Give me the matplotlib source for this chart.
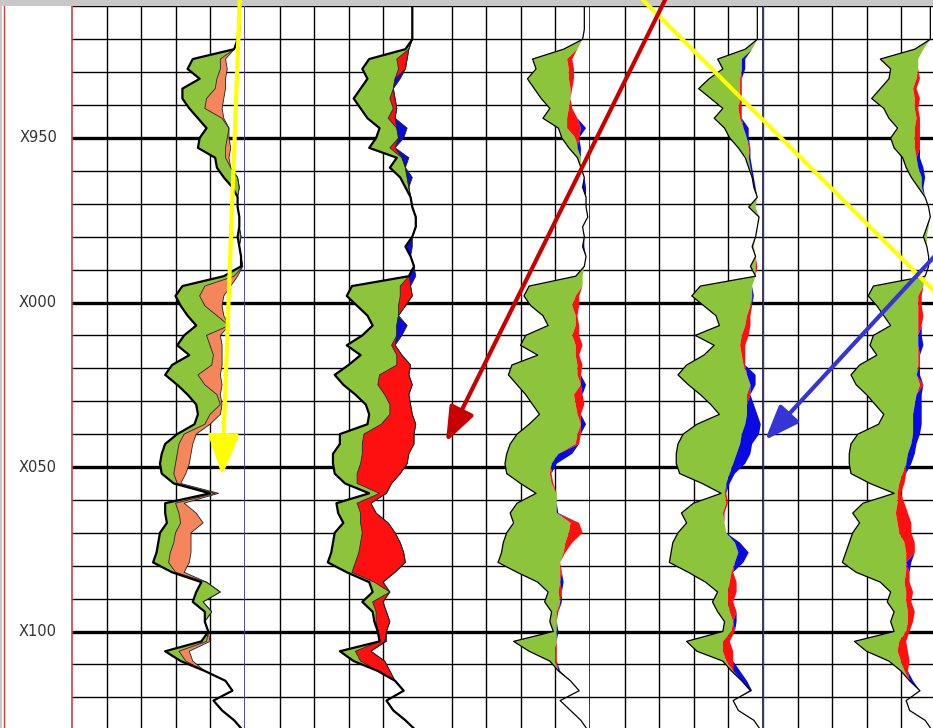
import numpy as np
import matplotlib
matplotlib.use("Agg")
import matplotlib.pyplot as plt
from matplotlib.patches import Rectangle, ConnectionPatch

# depth index of the log samples (every 3 ft)
depth = np.arange(908, 1131, 3)

label_depths = [950, 1000, 1050, 1100]
depth_labels = ["X950", "X000", "X050", "X100"]

# track 1: left curve, green and orange thickness (track units 0-100)
t1_left = [97, 97,
           97, 97, 96, 94, 70, 67, 74, 64, 64, 68,
           73, 78, 74, 73, 83, 84, 88, 93, 96, 96,
           97, 97, 96, 97, 98, 98, 88, 64, 60, 63,
           67, 72, 65, 61, 68, 58, 54, 61, 67, 72,
           73, 71, 61, 54, 52, 51, 52, 59, 80, 54,
           54, 55, 51, 50, 49, 47, 58, 75, 72, 70,
           77, 77, 79, 75, 54, 63, 77, 89, 93, 82,
           87, 94, 99]
t1_green = [0, 0,
            0, 0, 0, 0, 16, 19, 10, 19, 14, 9,
            14, 13, 16, 16, 6, 8, 8, 4, 0, 0,
            0, 0, 2, 0, 0, 1, 6, 13, 14, 14,
            17, 19, 13, 19, 14, 23, 19, 16, 17, 14,
            7, 6, 4, 8, 9, 9, 7, 2, 3, 6,
            8, 8, 9, 9, 8, 9, 2, 3, 14, 6,
            4, 0, 0, 3, 8, 3, 0, 0, 0, 0,
            0, 0, 0]
t1_orange = [0, 0,
             0, 0, 0, 0, 3, 4, 5, 6, 10, 10,
             1, 0, 1, 3, 2, 0, 0, 0, 0, 0,
             0, 0, 0, 0, 0, 0, 2, 15, 14, 10,
             4, 0, 8, 7, 5, 6, 13, 10, 2, 1,
             6, 3, 7, 8, 8, 8, 7, 2, 2, 5,
             10, 13, 9, 10, 12, 12, 5, 0, 0, 0,
             0, 0, 0, 2, 6, 4, 0, 0, 0, 0,
             0, 0, 0]

# track 2
t2_left = [97, 97,
           97, 97, 97, 93, 72, 68, 71, 67, 63, 67,
           71, 78, 76, 72, 88, 84, 90, 93, 96, 97,
           99, 99, 97, 93, 96, 98, 95, 62, 59, 65,
           71, 74, 68, 59, 67, 60, 52, 57, 64, 70,
           72, 71, 55, 55, 51, 51, 52, 58, 72, 53,
           54, 57, 52, 51, 50, 48, 59, 72, 74, 68,
           74, 75, 77, 78, 55, 63, 77, 87, 92, 82,
           86, 93, 99]
t2_green = [0, 0,
            0, 0, 0, 2, 16, 21, 16, 19, 21, 19,
            12, 10, 13, 12, 3, 9, 4, 2, 0, 0,
            0, 0, 0, 0, 0, 0, 0, 28, 31, 24,
            18, 14, 20, 26, 21, 28, 26, 20, 17, 14,
            12, 8, 14, 13, 17, 16, 13, 7, 6, 12,
            13, 10, 16, 16, 16, 16, 3, 3, 10, 6,
            2, 1, 0, 0, 9, 4, 0, 0, 0, 0,
            0, 0, 0]
t2_red = [0, 0,
          0, 0, 0, 0, 6, 4, 0, 0, 3, 2,
          4, 0, 0, 3, 0, 0, 0, 0, 0, 0,
          0, 0, 0, 0, 0, 0, 0, 6, 7, 4,
          0, 0, 0, 2, 3, 8, 17, 20, 14, 12,
          13, 20, 29, 30, 27, 27, 25, 20, 4, 8,
          9, 16, 19, 23, 26, 29, 25, 5, 0, 6,
          6, 8, 5, 3, 9, 14, 7, 0, 0, 0,
          0, 0, 0]
t2_blue = [0, 0,
           0, 0, 0, 0, 0, 0, 3, 0, 0, 0,
           0, 6, 3, 0, 4, 0, 3, 0, 0, 0,
           0, 0, 0, 4, 0, 0, 4, 0, 0, 0,
           0, 6, 3, 0, 0, 0, 0, 0, 0, 0,
           0, 0, 0, 0, 0, 0, 0, 0, 0, 0,
           0, 0, 0, 0, 0, 0, 0, 0, 0, 0,
           0, 0, 0, 1, 0, 0, 0, 0, 0, 0,
           0, 0, 0]

# track 3
t3_left = [97, 97,
           97, 97, 96, 85, 67, 69, 64, 68, 72, 77,
           73, 82, 84, 88, 93, 95, 97, 96, 98, 98,
           99, 96, 97, 96, 98, 97, 92, 65, 62, 66,
           73, 76, 63, 60, 70, 55, 53, 58, 63, 67,
           71, 65, 58, 54, 52, 51, 52, 60, 69, 58,
           54, 56, 52, 50, 49, 47, 58, 70, 76, 74,
           78, 77, 79, 56, 65, 77, 82, 89, 94, 83,
           89, 95, 99]
t3_green = [0, 0,
            0, 0, 0, 8, 20, 19, 24, 21, 17, 11,
            14, 5, 8, 5, 2, 0, 0, 0, 0, 0,
            0, 0, 0, 0, 0, 0, 4, 31, 30, 24,
            19, 16, 27, 32, 22, 38, 40, 37, 28, 25,
            22, 30, 35, 38, 30, 27, 25, 18, 12, 23,
            27, 33, 36, 36, 36, 36, 25, 13, 6, 9,
            3, 4, 2, 25, 15, 3, 0, 0, 0, 0,
            0, 0, 0]
t3_red = [0, 0,
          0, 0, 0, 0, 3, 3, 3, 1, 0, 2,
          6, 8, 2, 0, 0, 0, 0, 0, 0, 0,
          0, 0, 0, 0, 0, 0, 0, 0, 2, 4,
          1, 2, 4, 4, 2, 3, 2, 0, 5, 5,
          2, 0, 2, 2, 0, 0, 1, 1, 0, 0,
          0, 5, 8, 4, 1, 0, 1, 0, 2, 0,
          1, 0, 0, 0, 1, 1, 0, 0, 0, 0,
          0, 0, 0]
t3_blue = [0, 0,
           0, 0, 0, 0, 0, 0, 0, 0, 0, 0,
           0, 3, 0, 2, 0, 0, 0, 2, 0, 0,
           0, 0, 0, 1, 0, 0, 0, 0, 0, 0,
           0, 0, 0, 0, 0, 0, 0, 3, 0, 0,
           0, 3, 0, 0, 8, 3, 0, 0, 0, 0,
           1, 0, 0, 0, 0, 0, 0, 2, 0, 1,
           0, 0, 1, 0, 0, 0, 1, 0, 0, 0,
           0, 0, 0]

# track 4
t4_left = [97, 97,
           97, 97, 97, 90, 74, 77, 69, 63, 70, 77,
           72, 78, 81, 86, 90, 92, 94, 95, 97, 92,
           98, 97, 96, 94, 96, 93, 96, 64, 59, 66,
           73, 75, 61, 72, 66, 56, 51, 57, 64, 70,
           75, 62, 54, 51, 50, 50, 52, 65, 76, 60,
           53, 56, 51, 48, 47, 46, 57, 67, 74, 71,
           74, 78, 77, 56, 62, 77, 82, 88, 93, 83,
           86, 95, 99]
t4_green = [0, 0,
            0, 0, 0, 4, 14, 11, 18, 24, 17, 9,
            15, 11, 10, 6, 2, 1, 0, 0, 0, 4,
            0, 0, 0, 1, 0, 3, 0, 30, 35, 27,
            18, 15, 27, 15, 22, 33, 40, 36, 27, 21,
            16, 28, 34, 36, 35, 33, 29, 14, 2, 19,
            24, 22, 28, 36, 39, 38, 25, 14, 6, 9,
            7, 5, 5, 21, 15, 2, 1, 0, 0, 0,
            0, 0, 0]
t4_red = [0, 0,
          0, 0, 0, 0, 0, 0, 1, 1, 1, 2,
          1, 0, 0, 1, 0, 0, 0, 0, 0, 0,
          0, 0, 0, 0, 0, 1, 0, 0, 0, 1,
          2, 3, 4, 3, 2, 1, 0, 0, 2, 0,
          0, 0, 0, 0, 0, 0, 0, 0, 1, 1,
          1, 0, 0, 0, 0, 0, 1, 4, 5, 3,
          4, 0, 2, 4, 6, 4, 0, 0, 0, 0,
          0, 0, 0]
t4_blue = [0, 0,
           0, 0, 0, 0, 2, 2, 0, 0, 0, 0,
           0, 3, 1, 0, 1, 1, 1, 1, 0, 0,
           0, 0, 0, 0, 0, 0, 0, 0, 1, 0,
           0, 0, 0, 0, 0, 0, 5, 3, 0, 4,
           6, 9, 10, 7, 8, 7, 3, 2, 0, 0,
           0, 0, 0, 3, 6, 5, 0, 0, 0, 0,
           0, 2, 0, 0, 0, 0, 4, 3, 1, 0,
           0, 0, 0]

# track 5
t5_left = [97, 97,
           97, 97, 97, 88, 68, 74, 73, 68, 63, 70,
           73, 78, 74, 76, 81, 83, 86, 90, 94, 96,
           97, 95, 93, 95, 96, 96, 94, 64, 61, 66,
           70, 74, 64, 62, 66, 56, 51, 54, 60, 65,
           70, 67, 55, 51, 50, 50, 51, 62, 76, 58,
           52, 56, 52, 50, 48, 46, 54, 68, 74, 72,
           76, 74, 76, 53, 60, 73, 80, 85, 91, 83,
           85, 94, 98]
t5_green = [0, 0,
            0, 0, 0, 5, 22, 16, 16, 19, 25, 18,
            16, 10, 14, 12, 8, 7, 6, 2, 0, 0,
            0, 1, 2, 0, 0, 0, 0, 29, 29, 24,
            20, 16, 26, 28, 24, 34, 38, 37, 29, 23,
            17, 20, 32, 35, 34, 33, 30, 17, 2, 20,
            25, 22, 27, 32, 35, 37, 29, 14, 9, 11,
            8, 10, 7, 26, 18, 7, 2, 0, 0, 0,
            0, 0, 0]
t5_red = [0, 0,
          0, 0, 0, 0, 0, 0, 2, 2, 3, 2,
          2, 3, 3, 3, 0, 0, 0, 0, 0, 0,
          0, 0, 0, 0, 0, 0, 0, 0, 2, 2,
          3, 2, 0, 0, 1, 1, 0, 2, 0, 0,
          0, 0, 0, 0, 0, 0, 2, 3, 2, 4,
          7, 8, 7, 6, 5, 0, 2, 3, 4, 3,
          4, 3, 2, 4, 6, 5, 2, 0, 0, 0,
          0, 0, 0]
t5_blue = [0, 0,
           0, 0, 0, 0, 0, 0, 0, 0, 0, 0,
           0, 0, 0, 0, 2, 3, 2, 1, 0, 0,
           0, 0, 0, 0, 0, 0, 0, 0, 0, 0,
           0, 0, 2, 3, 0, 0, 2, 0, 3, 4,
           5, 5, 4, 3, 4, 3, 0, 0, 0, 0,
           0, 0, 0, 0, 0, 3, 0, 0, 0, 0,
           0, 0, 0, 0, 0, 0, 0, 2, 0, 0,
           0, 0, 0]

GREEN = "#8cc43c"
ORANGE = "#f5865c"
RED = "#ff1010"
BLUE = "#0a0ae0"

W, H = 933, 728
fig = plt.figure(figsize=(W / 100, H / 100), dpi=100)
fig.patch.set_facecolor("white")

top_px = 6
px_per_ft = 3.29
d_top = 950 + (top_px - 138) / px_per_ft
d_bot = 950 + (H - 138) / px_per_ft


def px_axes(x0, w):
    ax = fig.add_axes([x0 / W, 0, w / W, (H - top_px) / H])
    ax.set_ylim(d_bot, d_top)
    ax.set_xticks([])
    ax.set_yticks([])
    for s in ax.spines.values():
        s.set_visible(False)
    return ax


# depth column
axd = px_axes(4, 68)
axd.set_xlim(0, 1)
axd.spines["left"].set_visible(True)
axd.spines["left"].set_color("#d04040")
axd.spines["left"].set_linewidth(1.0)
for d, lab in zip(label_depths, depth_labels):
    axd.text(0.5, d, lab, ha="center", va="center", fontsize=10.5, color="#333333")


def draw_track(ax, left, layers, lw, edges):
    ax.set_xlim(0, 100)
    for x in (20, 40, 60, 80):
        ax.axvline(x, color="black", lw=1.0, zorder=0)
    for d in range(910, 1130, 10):
        ax.axhline(d, color="black", lw=2.4 if d % 50 == 0 else 1.0, zorder=0)
    x0 = np.array(left, float)
    for width, color in layers:
        x1 = x0 + np.array(width, float)
        ax.fill_betweenx(depth, x0, x1, color=color, lw=0, zorder=2)
        if edges:
            ax.plot(x1, depth, color="#222222", lw=0.6, zorder=3)
        x0 = x1
    ax.plot(left, depth, color="black", lw=lw, zorder=4)


lefts = [72, 245, 417, 590, 763]
axes = [px_axes(x, 172.5) for x in lefts]

draw_track(axes[0], t1_left, [(t1_green, GREEN), (t1_orange, ORANGE)], 1.6, True)
draw_track(axes[1], t2_left, [(t2_green, GREEN), (t2_red, RED), (t2_blue, BLUE)], 1.6, True)
draw_track(axes[2], t3_left, [(t3_green, GREEN), (t3_red, RED), (t3_blue, BLUE)], 0.9, False)
draw_track(axes[3], t4_left, [(t4_green, GREEN), (t4_red, RED), (t4_blue, BLUE)], 0.9, False)
draw_track(axes[4], t5_left, [(t5_green, GREEN), (t5_red, RED), (t5_blue, BLUE)], 0.9, False)

# track borders
axes[0].spines["left"].set_visible(True)
axes[0].spines["left"].set_color("#d04040")
axes[0].spines["left"].set_linewidth(1.2)
axes[0].spines["right"].set_visible(True)
axes[0].spines["right"].set_color("#3a3a9a")
axes[0].spines["right"].set_linewidth(2.0)
for ax in axes[1:4]:
    ax.spines["right"].set_visible(True)
    ax.spines["right"].set_color("black")
    ax.spines["right"].set_linewidth(1.8)
axes[4].spines["left"].set_visible(True)
axes[4].spines["left"].set_color("#3030c0")
axes[4].spines["left"].set_linewidth(1.0)

# window frame
fig.add_artist(Rectangle((0, (H - top_px) / H), 1, top_px / H, transform=fig.transFigure,
                         facecolor="#c8c8c8", edgecolor="none", zorder=5))
fig.add_artist(Rectangle((0, 0), 2 / W, 1, transform=fig.transFigure,
                         facecolor="#c8c8c8", edgecolor="none", zorder=5))


# annotation arrows
def connect(ax_a, xy_a, ax_b, xy_b, color, style):
    cp = ConnectionPatch(xyA=xy_a, coordsA=ax_a.transData, xyB=xy_b, coordsB=ax_b.transData,
                         arrowstyle=style, color=color, lw=3.0, mutation_scale=10,
                         shrinkA=0, shrinkB=0, zorder=10)
    cp.set_annotation_clip(False)
    fig.add_artist(cp)


connect(axes[3], (24.9, 905), axes[4], (105.5, 999.8), "#ffff00", "-")
connect(axes[0], (97.4, 906), axes[0], (87, 1052.7), "#ffff00",
        "-|>,head_length=2.5,head_width=0.95")
connect(axes[3], (46.4, 905), axes[2], (16.8, 1042.4), "#c80000",
        "-|>,head_length=2.1,head_width=0.8")
connect(axes[4], (105.5, 982.5), axes[4], (1.2, 1041.8), "#3535d5",
        "-|>,head_length=2.1,head_width=0.8")

fig.savefig("out.png", dpi=100, facecolor="white")
